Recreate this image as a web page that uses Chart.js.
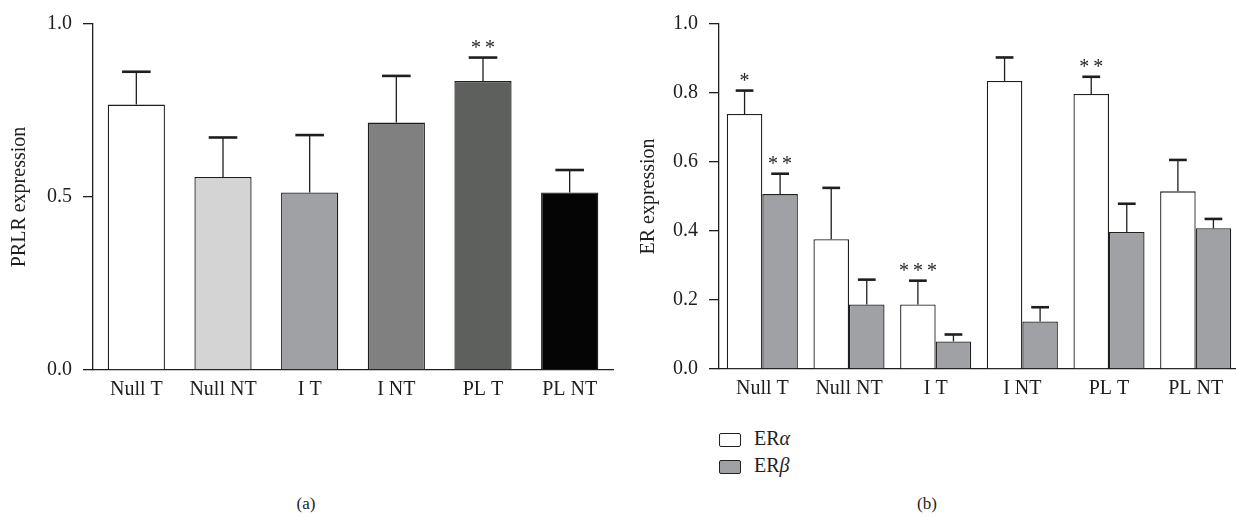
<!DOCTYPE html>
<html>
<head>
<meta charset="utf-8">
<script src="https://cdn.jsdelivr.net/npm/chart.js"></script>
<style>
  body { margin: 0; background: #fff; width: 1236px; height: 516px; overflow: hidden; position: relative; font-family: 'Liberation Serif', 'DejaVu Serif', serif; color: #1e1e1e; }
  canvas { position: absolute; top: 0; }
  #chartA { left: 0; }
  #chartB { left: 620px; }
  .caption { position: absolute; font-size: 17px; top: 494px; width: 40px; text-align: center; }
  .legend { position: absolute; left: 719px; font-size: 20px; }
  .legend span.box { display: inline-block; width: 20px; height: 12px; border: 1.5px solid #222; border-radius: 2px; vertical-align: middle; margin-right: 13px; }
</style>
</head>
<body>
<canvas id="chartA" width="620" height="400"></canvas>
<canvas id="chartB" width="619" height="400"></canvas>
<div class="legend" style="top:427px"><span class="box" style="background:#fff"></span>ER<i>α</i></div>
<div class="legend" style="top:454px"><span class="box" style="background:#a0a1a5"></span>ER<i>β</i></div>
<div class="caption" style="left:286px">(a)</div>
<div class="caption" style="left:907px">(b)</div>
<script>
const categories = ['Null T', 'Null NT', 'I T', 'I NT', 'PL T', 'PL NT'];

// (a) PRLR expression
const prlrMean = [0.767, 0.558, 0.513, 0.715, 0.835, 0.513];
const prlrErr = [0.095, 0.114, 0.166, 0.135, 0.068, 0.065];
const prlrStars = ['', '', '', '', '**', ''];
const prlrColors = ['#ffffff', '#d4d4d4', '#a0a1a5', '#808080', '#5e605e', '#050505'];
const prlrTicks = [0, 0.5, 1.0];

// (b) ER expression
const eraMean = [0.739, 0.376, 0.187, 0.835, 0.797, 0.515];
const eraErr = [0.068, 0.149, 0.069, 0.068, 0.050, 0.091];
const eraStars = ['*', '', '***', '', '**', ''];
const erbMean = [0.507, 0.187, 0.080, 0.138, 0.397, 0.408];
const erbErr = [0.059, 0.072, 0.020, 0.041, 0.082, 0.027];
const erbStars = ['**', '', '', '', '', ''];
const erTicks = [0, 0.2, 0.4, 0.6, 0.8, 1.0];

const FONT = "'Liberation Serif', 'DejaVu Serif', serif";
const INK = '#1e1e1e';

// draws error bars (upper only) and significance stars
const errorBars = {
    id: 'errorBars',
    afterDatasetsDraw(chart) {
        const ctx = chart.ctx;
        const y = chart.scales.y;
        chart.data.datasets.forEach((ds, i) => {
            const meta = chart.getDatasetMeta(i);
            meta.data.forEach((bar, j) => {
                const top = y.getPixelForValue(ds.data[j] + ds.errors[j]);
                const half = bar.width / 4;
                ctx.save();
                ctx.strokeStyle = INK;
                ctx.lineWidth = 1.3;
                ctx.beginPath();
                ctx.moveTo(bar.x, bar.y);
                ctx.lineTo(bar.x, top);
                ctx.stroke();
                ctx.lineWidth = 2.6;
                ctx.beginPath();
                ctx.moveTo(bar.x - half, top);
                ctx.lineTo(bar.x + half, top);
                ctx.stroke();
                if (ds.stars[j]) {
                    ctx.fillStyle = INK;
                    ctx.font = '20px ' + FONT;
                    ctx.textAlign = 'center';
                    ctx.textBaseline = 'alphabetic';
                    ctx.fillText(ds.stars[j].split('').join('\u2009'), bar.x, top - 4);
                }
                ctx.restore();
            });
        });
    }
};

const makeOptions = (ticks, step, axisWidth, xHeight, titleText, titlePad) => ({
    responsive: false,
    animation: false,
    layout: { padding: { top: 24, right: 0, left: 0, bottom: 0 } },
    plugins: { legend: { display: false }, tooltip: { enabled: false } },
    scales: {
        x: {
            grid: { display: false, drawTicks: false },
            border: { display: true, color: INK, width: 1.3 },
            ticks: { color: INK, font: { family: FONT, size: 20 }, padding: 8, maxRotation: 0 },
            afterFit: s => { s.height = xHeight; }
        },
        y: {
            min: 0,
            max: 1,
            afterBuildTicks: s => { s.ticks = ticks.map(v => ({ value: v })); },
            grid: { display: true, drawOnChartArea: false, drawTicks: true, tickLength: 10, color: INK, lineWidth: 1.3 },
            border: { display: true, color: INK, width: 1.3 },
            ticks: { stepSize: step, color: INK, font: { family: FONT, size: 20 }, padding: 11, callback: v => Number(v).toFixed(1) },
            title: { display: true, text: titleText, color: INK, font: { family: FONT, size: 20 }, padding: { top: titlePad, bottom: 0 } },
            afterFit: s => { s.width = axisWidth; }
        }
    }
});

new Chart(document.getElementById('chartA'), {
    type: 'bar',
    data: {
        labels: categories,
        datasets: [{
            data: prlrMean,
            errors: prlrErr,
            stars: prlrStars,
            backgroundColor: prlrColors,
            borderColor: INK,
            borderWidth: 1.3,
            barPercentage: 0.66,
            categoryPercentage: 1.0
        }]
    },
    options: Object.assign(makeOptions(prlrTicks, 0.5, 93, 30, 'PRLR expression', 8), {
        layout: { padding: { top: 24, right: 7, left: 0, bottom: 0 } }
    }),
    plugins: [errorBars]
});

new Chart(document.getElementById('chartB'), {
    type: 'bar',
    data: {
        labels: categories,
        datasets: [{
            label: 'ERα',
            data: eraMean,
            errors: eraErr,
            stars: eraStars,
            backgroundColor: '#ffffff',
            borderColor: INK,
            borderWidth: 1.3,
            barPercentage: 1.0,
            categoryPercentage: 0.82
        }, {
            label: 'ERβ',
            data: erbMean,
            errors: erbErr,
            stars: erbStars,
            backgroundColor: '#a0a1a5',
            borderColor: INK,
            borderWidth: 1.3,
            barPercentage: 1.0,
            categoryPercentage: 0.82
        }]
    },
    options: makeOptions(erTicks, 0.2, 99, 31, 'ER expression', 17),
    plugins: [errorBars]
});
</script>
</body>
</html>
